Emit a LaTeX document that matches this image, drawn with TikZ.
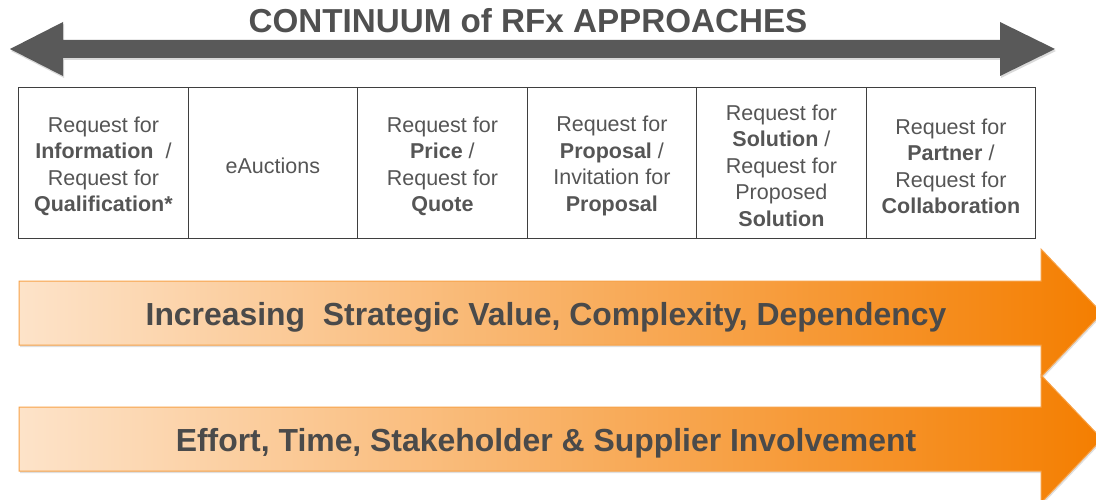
\documentclass[tikz,border=0pt]{standalone}
\usepackage{fontspec}
\setmainfont{Liberation Sans}
\usetikzlibrary{shadows}
\definecolor{arrowgray}{HTML}{595959}
\definecolor{titlegray}{HTML}{505050}
\definecolor{textgray}{HTML}{4A4A4A}
\definecolor{cellgray}{HTML}{555555}
\definecolor{rulegray}{HTML}{3F3F3F}
\definecolor{peach}{HTML}{FDE3C9}
\definecolor{deeporange}{HTML}{F47E00}
\definecolor{bandedge}{HTML}{F7A248}
\begin{document}
\begin{tikzpicture}[x=1pt,y=-1pt,
  cell/.style={draw=rulegray, line width=1.3pt, minimum width=169.5pt,
    minimum height=151pt, inner sep=0pt, anchor=north west},
  celltext/.style={align=center, text=cellgray, inner sep=0pt,
    font=\fontsize{21.5}{26.5}\selectfont},
  band/.style={left color=peach, right color=deeporange, draw=bandedge,
    line width=1pt,
    drop shadow={opacity=0.25, shadow xshift=1pt, shadow yshift=-2pt}},
  bandtext/.style={font=\bfseries\fontsize{31.9}{36}\selectfont,
    text=textgray, anchor=base, inner sep=0pt},
  continuum/.style={fill=arrowgray,
    drop shadow={opacity=0.3, shadow xshift=1pt, shadow yshift=-2pt}},
]
\useasboundingbox (0,0) rectangle (1096,500);

% title and the two-headed continuum arrow
\node[font=\bfseries\fontsize{33.2}{38}\selectfont, text=titlegray,
  anchor=base, inner sep=0pt] (title) at (528,33)
  {CONTINUUM of RFx APPROACHES};
\path[continuum] (10,49) -- (63,22) -- (63,40) -- (1000,40) -- (1000,22)
  -- (1055,49) -- (1000,76) -- (1000,58) -- (63,58) -- (63,76) -- cycle;

% row of RFx approaches
\node[cell] (rfi) at (18,87) {};
\node[cell] (eauc) at (187.5,87) {};
\node[cell] (rfp) at (357,87) {};
\node[cell] (rfprop) at (526.5,87) {};
\node[cell] (rfs) at (696,87) {};
\node[cell] (rfpart) at (865.5,87) {};

\node[celltext] (rfi-t) at ([yshift=-3pt]rfi.center)
  {Request for\\\textbf{Information}\ \ /\\Request for\\\textbf{Qualification*}};
\node[celltext] (eauc-t) at ([yshift=-3pt]eauc.center) {eAuctions};
\node[celltext] (rfp-t) at ([yshift=-3pt]rfp.center)
  {Request for\\\textbf{Price} /\\Request for\\\textbf{Quote}};
\node[celltext] (rfprop-t) at ([yshift=-3pt]rfprop.center)
  {Request for\\\textbf{Proposal} /\\Invitation for\\\textbf{Proposal}};
\node[celltext] (rfs-t) at ([yshift=-2.5pt]rfs.center)
  {Request for\\\textbf{Solution} /\\Request for\\Proposed\\\textbf{Solution}};
\node[celltext] (rfpart-t) at ([yshift=-3pt]rfpart.center)
  {Request for\\\textbf{Partner} /\\Request for\\\textbf{Collaboration}};

% orange trend arrows
\path[band] (19,281) -- (1041,281) -- (1041,249) -- (1102,313)
  -- (1041,377) -- (1041,345) -- (19,345) -- cycle;
\node[bandtext] (value) at (546,325)
  {Increasing\ \ Strategic Value, Complexity, Dependency};

\path[band] (19,407) -- (1041,407) -- (1041,375) -- (1102,439)
  -- (1041,503) -- (1041,471) -- (19,471) -- cycle;
\node[bandtext] (effort) at (546,451)
  {Effort, Time, Stakeholder \& Supplier Involvement};
\end{tikzpicture}
\end{document}
